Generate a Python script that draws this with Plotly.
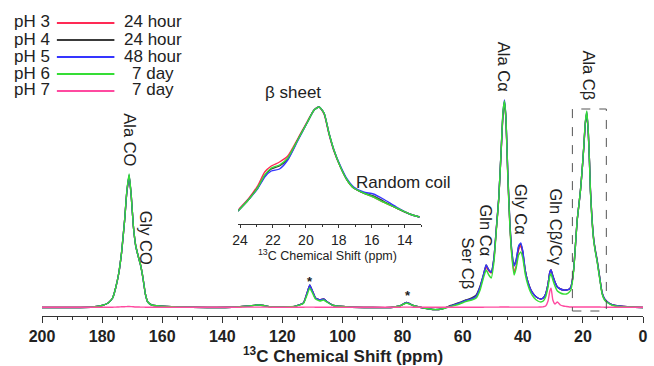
import plotly.graph_objects as go

# ---------------- data ----------------
series_names = ["pH 3", "pH 4", "pH 5", "pH 6", "pH 7"]
series_times = ["24 hour", "24 hour", "48 hour", "7 day", "7 day"]
series_colors = ["#ff2a55", "#3a3a3a", "#3535ff", "#35dd35", "#ff4aa0"]

shift_ppm = [200, 190, 183, 180, 178, 176.5, 175.5, 174.5, 173.5, 172.5, 171.8, 171.0, 170.3, 169.6,
             168.8, 168.0, 167.2, 166.4, 165.6, 164.8, 163.5, 161, 155, 145, 135, 128, 123, 116, 113,
             111.8, 110.9, 110.0, 109.0, 107.5, 106.3, 105.0, 103, 98, 90, 84, 81, 78.7, 76.5, 73, 70,
             67, 64, 61, 59, 57, 55.5, 54.2, 53.2, 52.2, 51.3, 50.5, 49.6, 48.8, 48.0, 47.2, 46.6, 46.1,
             45.6, 45.0, 44.3, 43.6, 42.9, 42.2, 41.4, 40.7, 40.0, 39.2, 38.3, 37.3, 36.2, 35.0, 34.0,
             33.2, 32.4, 31.6, 31.0, 30.6, 30.0, 29.3, 28.5, 27.5, 26.5, 25.5, 24.5, 24.0, 23.5, 23.0,
             22.5, 21.9, 21.3, 20.8, 20.2, 19.7, 19.2, 18.7, 18.2, 17.8, 17.5, 17.0, 16.4, 15.8, 15.3,
             14.6, 14.0, 13.6, 12.8, 11.4, 10, 8, 4, 0]

int_ph3 = [0.5, 0.5, 1, 2.5, 5, 10, 20, 34, 56, 88, 115, 132, 112, 82,
           62, 52, 43, 30, 14, 6, 3, 2, 1, 0.5, 1, 3, 1, 1.5, 5,
           15, 22, 17, 10, 8, 9, 6, 2.5, 1, 0.5, 0.5, 2, 5.5, 2.5, 0, -1.5,
           -1, 2, 5, 7.5, 9, 12, 21, 31, 41, 37, 35, 49, 79, 109, 157, 193, 205,
           188, 132, 82, 52, 36, 42, 58, 62, 55, 37, 26, 18, 13, 10, 9,
           10, 14, 24, 36, 38, 32, 26, 21, 19, 18, 18, 19, 21, 28, 41,
           62, 88, 104, 118, 140, 161, 185, 195, 175, 145, 118, 90, 68, 56, 48,
           34, 22, 15, 9, 5, 3, 2, 1, 0.5]

int_ph4 = [0.5, 0.5, 1, 2.5, 5, 10, 20, 34, 56, 88, 115, 132, 112, 82,
           62, 52, 43, 30, 14, 6, 3, 2, 1, 0.5, 1, 3, 1, 1.5, 5,
           15, 23, 17, 10, 8, 9, 6, 2.5, 1, 0.5, 0.5, 2, 5.5, 2.5, 0, -1.5,
           -1, 2.5, 5.5, 8, 10, 13, 22, 32, 43, 38, 36, 50, 80, 110, 157, 194, 206,
           189, 135, 85, 55, 43, 48, 61, 64, 56, 38, 26, 18, 13, 10, 9,
           10, 14, 24, 36, 38, 32, 26, 21, 19, 18, 18, 19, 21, 28, 41,
           62, 88, 104, 118, 140, 161, 184, 194, 175, 146, 119, 91, 69, 57, 49,
           35, 22, 15, 9, 5, 3, 2, 1, 0.5]

int_ph5 = [0.5, 0.5, 1, 2.5, 5, 10, 20, 34, 56, 88, 115, 133, 112, 82,
           62, 52, 43, 30, 14, 6, 3, 2, 1, 0.5, 1, 3, 1, 1.5, 5,
           15, 23, 17, 10, 8, 9, 6, 2.5, 1, 0.5, 0.5, 2, 5.5, 2.5, 0, -1.5,
           -1, 2, 5, 7.5, 9, 12, 21, 32, 43, 38, 36, 50, 80, 110, 158, 195, 208,
           190, 135, 85, 55, 42, 48, 62, 65, 57, 38, 26, 18, 13, 10, 9,
           10, 14, 24, 36, 38, 32, 26, 21, 19, 18, 18, 19, 21, 28, 41,
           62, 88, 104, 118, 140, 161, 185, 196, 175, 145, 118, 90, 68, 56, 48,
           34, 22, 15, 9, 5, 3, 2, 1, 0.5]

int_ph6 = [0.5, 0.5, 1, 2.5, 5, 10, 20, 34, 56, 88, 116, 134, 112, 82,
           62, 52, 43, 30, 14, 6, 3, 2, 1, 0.5, 1, 3, 1, 1.5, 4.5,
           13, 20, 15, 9, 7, 8, 5.5, 2.5, 1, 0.5, 0.5, 2, 5, 2.5, 0, -1.5,
           -1, 1.5, 4, 6.5, 8, 10, 18, 29, 38, 33, 30, 46, 78, 109, 158, 196, 207,
           189, 133, 82, 50, 33, 40, 53, 56, 50, 34, 23, 15, 10, 7, 6,
           7, 11, 21, 32, 34, 28, 22, 17, 15, 14, 14, 16, 18, 26, 40,
           62, 88, 104, 118, 140, 162, 186, 197, 176, 145, 117, 89, 67, 55, 47,
           33, 21, 14, 8, 4.5, 2.5, 1.5, 1, 0.5]

int_ph7 = [0.8, 0.8, 0.8, 0.8, 0.8, 0.8, 0.9, 1, 1.2, 1.3, 1.4, 1.5, 1.4, 1.2,
           1, 1, 0.9, 0.9, 0.8, 0.8, 0.8, 0.8, 0.8, 0.8, 0.8, 0.9, 0.8, 0.8, 0.8,
           0.9, 0.9, 0.9, 0.8, 0.8, 0.8, 0.8, 0.8, 0.8, 0.8, 0.8, 0.8, 0.9, 0.8, 0.8, 0.8,
           0.8, 0.8, 0.8, 0.8, 0.8, 0.8, 0.8, 0.8, 0.9, 0.9, 0.9, 0.9, 0.9, 0.9, 1, 1, 1,
           1, 1, 0.9, 0.9, 0.9, 0.9, 0.9, 0.9, 0.9, 0.9, 0.9, 0.9, 0.9, 0.9, 1,
           1.2, 2, 7, 17, 20, 8, 4, 6, 3, 2, 1.5, 1, 1, 1, 1,
           1, 1, 1, 1, 1, 1, 1, 1, 1, 1, 1, 1, 1, 1, 1,
           1, 0.9, 0.9, 0.8, 0.8, 0.8, 0.8, 0.8, 0.8]

main_intensities = [int_ph3, int_ph4, int_ph5, int_ph6, int_ph7]

# inset (Ala C-beta region)
inset_ppm = [24.3, 23.5, 22.9, 22.5, 22.1, 21.6, 21.1, 20.5, 19.9, 19.5, 19.2, 18.9, 18.6, 18.3,
             17.9, 17.5, 17.1, 16.5, 15.9, 15.3, 14.5, 13.7, 13.1]
inset_ph3 = [11, 25, 39, 52, 58, 62, 68, 85, 103, 114, 117, 110, 90, 73, 57, 44, 36, 31, 27, 22, 16, 10, 7]
inset_ph4 = [10, 24, 37, 48, 55, 58, 65, 84, 102, 114, 117, 111, 91, 74, 57, 44, 36, 31, 28, 23, 16, 10, 7]
inset_ph5 = [10, 24, 36, 47, 53, 55, 64, 83, 102, 114, 117, 111, 91, 74, 58, 45, 37, 32, 30, 25, 17, 10, 7]
inset_ph6 = [10, 24, 37, 49, 56, 59, 66, 84, 102, 114, 117, 111, 91, 74, 57, 44, 36, 31, 27, 22, 16, 10, 7]
inset_intensities = [inset_ph3, inset_ph4, inset_ph5, inset_ph6]

main_ticks = [200, 180, 160, 140, 120, 100, 80, 60, 40, 20, 0]
inset_ticks = [24, 22, 20, 18, 16, 14]

peak_labels = ["Ala CO", "Gly CO", "Ala Cα", "Ala Cβ", "Gly Cα", "Gln Cβ/Cγ", "Gln Cα", "Ser Cβ"]
peak_label_ppm = [170.8, 165.3, 46.2, 18.1, 40.6, 28.8, 52.4, 58.1]
peak_label_int = [168, 70, 241, 233, 99, 81, 78, 44]
artifact_ppm = [110.7, 78.2]
artifact_int = [27, 13]

# ---------------- figure ----------------
FONT = "Liberation Sans, Arial, sans-serif"
TXT = "#222222"

fig = go.Figure()

for name, col, vals in zip(series_names, series_colors, main_intensities):
    fig.add_trace(go.Scatter(x=shift_ppm, y=vals, mode="lines", name=name,
                             line=dict(color=col, width=1.4, shape="spline", smoothing=0.4),
                             showlegend=False, xaxis="x", yaxis="y"))

for name, col, vals in zip(series_names[:4], series_colors[:4], inset_intensities):
    fig.add_trace(go.Scatter(x=inset_ppm, y=vals, mode="lines", name=name,
                             line=dict(color=col, width=1.4, shape="spline", smoothing=0.6),
                             showlegend=False, xaxis="x2", yaxis="y2"))

def px(xp):
    return (xp - 42) / 606.0

def py(yp):
    return (316 - yp) / 306.0

annotations = []
for lab, xv, yv in zip(peak_labels, peak_label_ppm, peak_label_int):
    annotations.append(dict(x=xv, y=yv, xref="x", yref="y", text=lab, showarrow=False,
                            textangle=90, font=dict(family=FONT, size=16.5, color=TXT),
                            xanchor="center", yanchor="middle"))
for xv, yv in zip(artifact_ppm, artifact_int):
    annotations.append(dict(x=xv, y=yv, xref="x", yref="y", text="*", showarrow=False,
                            font=dict(family=FONT, size=13, color=TXT, weight="bold"),
                            xanchor="center", yanchor="middle"))

annotations.append(dict(x=px(295), y=py(92), xref="paper", yref="paper", text="β sheet",
                        showarrow=False, font=dict(family=FONT, size=17, color=TXT),
                        xanchor="center", yanchor="middle"))
annotations.append(dict(x=px(357), y=py(182), xref="paper", yref="paper", text="Random coil",
                        showarrow=False, font=dict(family=FONT, size=17, color=TXT),
                        xanchor="left", yanchor="middle"))
annotations.append(dict(x=0.5, y=py(355), xref="paper", yref="paper",
                        text="<sup>13</sup>C Chemical Shift (ppm)", showarrow=False,
                        font=dict(family=FONT, size=17, color=TXT, weight="bold"),
                        xanchor="center", yanchor="middle"))
annotations.append(dict(x=px(330), y=py(255), xref="paper", yref="paper",
                        text="<sup>13</sup>C Chemical Shift (ppm)", showarrow=False,
                        font=dict(family=FONT, size=12.5, color=TXT),
                        xanchor="center", yanchor="middle"))

shapes = []
legend_rows = [22, 39, 56, 73, 90]
for name, t, col, ry in zip(series_names, series_times, series_colors, legend_rows):
    annotations.append(dict(x=px(12), y=py(ry), xref="paper", yref="paper", text=name,
                            showarrow=False, font=dict(family=FONT, size=17, color=TXT),
                            xanchor="left", yanchor="middle"))
    annotations.append(dict(x=px(154), y=py(ry), xref="paper", yref="paper", text=t,
                            showarrow=False, font=dict(family=FONT, size=17, color=TXT),
                            xanchor="center", yanchor="middle"))
    shapes.append(dict(type="line", xref="paper", yref="paper", x0=px(57), x1=px(115),
                       y0=py(ry + 1), y1=py(ry + 1), line=dict(color=col, width=2)))

# dashed box around Ala C-beta
shapes.append(dict(type="rect", xref="x", yref="y", x0=23.5, x1=12.2, y0=-3, y1=199,
                   line=dict(color="#555555", width=1, dash="dash")))

fig.update_layout(
    width=654, height=366,
    margin=dict(l=42, r=6, t=10, b=50),
    paper_bgcolor="white", plot_bgcolor="white",
    xaxis=dict(range=[200, 0], domain=[0, 1], tickmode="array", tickvals=main_ticks,
               showline=True, linecolor="#333333", linewidth=1, ticks="outside", ticklen=6,
               tickcolor="#333333", showgrid=False, zeroline=False,
               tickfont=dict(family=FONT, size=16, color=TXT, weight="bold"),
               minor=dict(dtick=5, ticks="outside", ticklen=3, tickcolor="#333333")),
    yaxis=dict(range=[-8, 298], domain=[0, 1], visible=False),
    xaxis2=dict(range=[24.1, 13.0], domain=[px(240), px(424.3)], anchor="y2",
                tickmode="array", tickvals=inset_ticks, showline=True, linecolor="#333333",
                linewidth=1, ticks="outside", ticklen=3, tickcolor="#333333",
                showgrid=False, zeroline=False,
                tickfont=dict(family=FONT, size=14, color=TXT),
                minor=dict(dtick=1, ticks="outside", ticklen=2, tickcolor="#333333")),
    yaxis2=dict(range=[0, 124], domain=[py(224), py(100)], anchor="x2", visible=False),
    annotations=annotations,
    shapes=shapes,
)

fig.write_html("out.html")
